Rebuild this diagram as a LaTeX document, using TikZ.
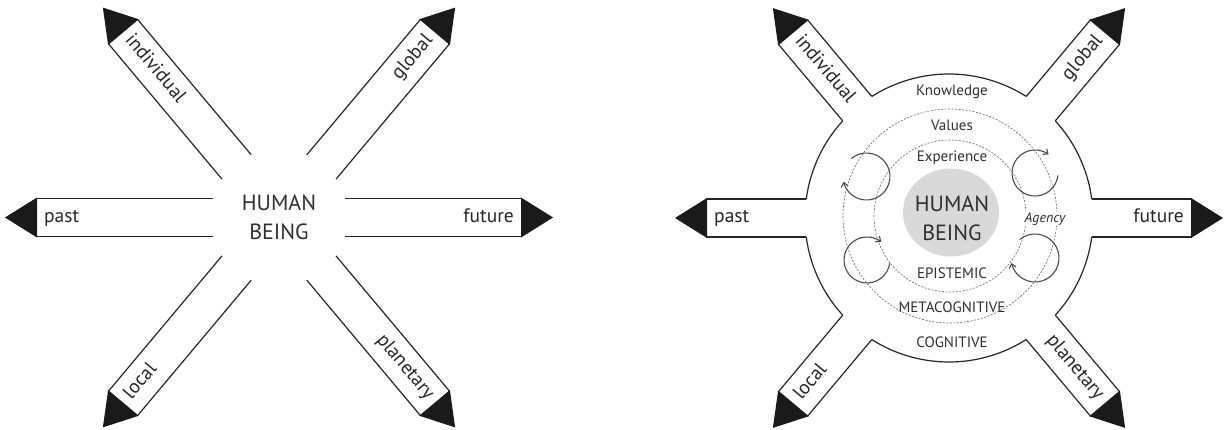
\documentclass[tikz,border=0pt]{standalone}
\usepackage{fontspec}
\setmainfont{PT Sans}
\usetikzlibrary{calc,arrows.meta}
\definecolor{ink}{HTML}{262626}
\definecolor{tipc}{HTML}{1A1A1A}
\definecolor{dashc}{HTML}{6A6A6A}
\definecolor{loopc}{HTML}{4A4A4A}
\definecolor{txt}{HTML}{2E2E2E}
\definecolor{core}{HTML}{D9D9D9}
\tikzset{
  armline/.style={draw=ink, line width=1.2pt},
  tipfill/.style={fill=tipc},
  armlabel/.style={font=\fontsize{19.5}{19.5}\selectfont, text=ink, inner sep=2pt, text height=13pt, text depth=4pt},
  ringlabel/.style={font=\fontsize{15}{15}\selectfont, text=txt, inner sep=1pt},
  corelabel/.style={font=\fontsize{22}{29}\selectfont, text=txt, align=center},
  dashring/.style={draw=dashc, line width=0.65pt, dash pattern=on 2pt off 1.5pt},
  looparrow/.style={draw=loopc, line width=1.1pt, -{Straight Barb[length=4pt,width=7pt]}},
}
\begin{document}
\begin{tikzpicture}[x=1pt,y=1pt]
\useasboundingbox (0,0) rectangle (1225,429);
\coordinate (L) at (279,211.5);
\coordinate (R) at (949,211);

% ---------- left diagram ----------
\foreach \a in {0,50,130,180,230,310} {
  \draw[armline] ($(L)+(\a:66)+(\a+90:19)$) -- ($(L)+(\a:243)+(\a+90:19)$);
  \draw[armline] ($(L)+(\a:66)+(\a-90:19)$) -- ($(L)+(\a:243)+(\a-90:19)$);
  \fill[tipfill] ($(L)+(\a:242)+(\a+90:20)$) -- ($(L)+(\a:274)$) -- ($(L)+(\a:242)+(\a-90:20)$) -- cycle;
}
\node[corelabel] (lhb) at (L) {HUMAN\\BEING};
\node[armlabel, anchor=east] (lfuture) at ($(L)+(0:237)$) {future};
\node[armlabel, anchor=east, rotate=50] (lglobal) at ($(L)+(50:237)$) {global};
\node[armlabel, anchor=east, rotate=-50] (lplanet) at ($(L)+(310:237)$) {planetary};
\node[armlabel, anchor=west] (lpast) at ($(L)+(180:237)$) {past};
\node[armlabel, anchor=west, rotate=-50] (lindiv) at ($(L)+(130:237)$) {individual};
\node[armlabel, anchor=west, rotate=50] (llocal) at ($(L)+(230:237)$) {local};

% ---------- right diagram ----------
\foreach \a in {0,50,130,180,230,310} {
  \draw[armline] ($(R)+(\a:142.74)+(\a+90:19)$) -- ($(R)+(\a:243)+(\a+90:19)$);
  \draw[armline] ($(R)+(\a:142.74)+(\a-90:19)$) -- ($(R)+(\a:243)+(\a-90:19)$);
  \fill[tipfill] ($(R)+(\a:242)+(\a+90:20)$) -- ($(R)+(\a:274)$) -- ($(R)+(\a:242)+(\a-90:20)$) -- cycle;
}
\foreach \s/\e in {7.58/42.42, 57.58/122.42, 137.58/172.42, 187.58/222.42, 237.58/302.42, 317.58/352.42} {
  \draw[armline] ($(R)+(\s:144)$) arc[start angle=\s, end angle=\e, radius=144];
}
\coordinate (D) at (950,213);
\draw[dashring] (D) circle[radius=107];
\draw[dashring] (D) circle[radius=76];
\fill[core] (951,216.5) ellipse[x radius=48, y radius=44];

% loops
\coordinate (lp1) at (866.5,252.5);
\coordinate (lp2) at (1035,256);
\coordinate (lp3) at (867,169);
\coordinate (lp4) at (1035,171);
\draw[looparrow] ($(lp1)+(130:23.5)$) arc[start angle=130, end angle=-167, radius=23.5];
\draw[looparrow] ($(lp2)+(354:23)$) arc[start angle=354, end angle=54, radius=23];
\draw[looparrow] ($(lp3)+(352:23)$) arc[start angle=352, end angle=52, radius=23];
\draw[looparrow] ($(lp4)+(130:24)$) arc[start angle=130, end angle=-168, radius=24];

\node[corelabel] (rhb) at (952,211) {HUMAN\\BEING};
\node[ringlabel] (know) at (952,337) {Knowledge};
\node[ringlabel] (vals) at (952,304) {Values};
\node[ringlabel] (expe) at (952,271) {Experience};
\node[ringlabel] (epis) at (952,156) {EPISTEMIC};
\node[ringlabel] (meta) at (952,122) {METACOGNITIVE};
\node[ringlabel] (cogn) at (952,87) {COGNITIVE};
\node[ringlabel, fill=white, font=\fontsize{14}{14}\selectfont\itshape] (agen) at (1045,210) {Agency};

\node[armlabel, anchor=east] (rfuture) at ($(R)+(0:237)$) {future};
\node[armlabel, anchor=east, rotate=50] (rglobal) at ($(R)+(50:237)$) {global};
\node[armlabel, anchor=east, rotate=-50] (rplanet) at ($(R)+(310:237)$) {planetary};
\node[armlabel, anchor=west] (rpast) at ($(R)+(180:237)$) {past};
\node[armlabel, anchor=west, rotate=-50] (rindiv) at ($(R)+(130:237)$) {individual};
\node[armlabel, anchor=west, rotate=50] (rlocal) at ($(R)+(230:237)$) {local};
\end{tikzpicture}
\end{document}
